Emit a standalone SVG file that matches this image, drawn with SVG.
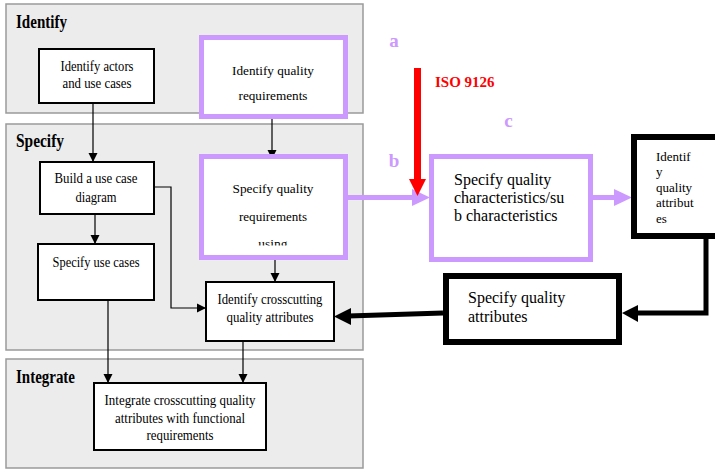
<svg xmlns="http://www.w3.org/2000/svg" width="715" height="469" viewBox="0 0 715 469">
  <style>
    .panel { fill: #ececec; stroke: #9a9a9a; stroke-width: 1.5; }
    .ptitle { font-family: "Liberation Serif", "Times New Roman", serif; font-weight: bold; font-size: 18px; fill: #000; }
    .box { fill: #fff; stroke: #000; stroke-width: 2; }
    .pbox { fill: #fff; stroke: #cc99ff; stroke-width: 5; }
    .bbox { fill: #fff; stroke: #000; stroke-width: 6; }
    .t { font-family: "Liberation Serif", "Times New Roman", serif; font-size: 15px; fill: #000; text-anchor: middle; }
    .tp { font-family: "Liberation Serif", "Times New Roman", serif; font-size: 13.5px; fill: #000; text-anchor: middle; }
    .tl { font-family: "Liberation Serif", "Times New Roman", serif; fill: #000; }
    .tag { font-family: "Liberation Serif", "Times New Roman", serif; font-weight: bold; font-size: 19px; fill: #cc99ff; text-anchor: middle; }
    .thin { fill: none; stroke: #000; stroke-width: 1.2; }
  </style>
  <defs>
    <marker id="ah" viewBox="0 0 10 10" refX="10" refY="5" markerWidth="9" markerHeight="10" markerUnits="userSpaceOnUse" orient="auto">
      <path d="M0,0 L10,5 L0,10 Z" fill="#000"/>
    </marker>
    <clipPath id="clipUsing">
      <rect x="204" y="159" width="139" height="86.5"/>
    </clipPath>
  </defs>

  <rect width="715" height="469" fill="#fff"/>

  <!-- phase panels -->
  <g id="panels">
    <rect class="panel" x="6" y="4" width="357" height="109"/>
    <text class="ptitle" x="16" y="28" textLength="51" lengthAdjust="spacingAndGlyphs">Identify</text>
    <rect class="panel" x="6" y="124" width="357" height="226"/>
    <text class="ptitle" x="16" y="147" textLength="48" lengthAdjust="spacingAndGlyphs">Specify</text>
    <rect class="panel" x="6" y="359" width="357" height="109"/>
    <text class="ptitle" x="16" y="383" textLength="59" lengthAdjust="spacingAndGlyphs">Integrate</text>
  </g>

  <!-- connectors (drawn beneath the nodes) -->
  <g id="connectors">
    <line class="thin" x1="93" y1="103" x2="93" y2="162" marker-end="url(#ah)"/>
    <line class="thin" x1="95" y1="214" x2="95" y2="244" marker-end="url(#ah)"/>
    <polyline class="thin" points="154,187 171,187 171,308 206,308" marker-end="url(#ah)"/>
    <line class="thin" x1="272" y1="119" x2="272" y2="159" marker-end="url(#ah)"/>
    <line class="thin" x1="275" y1="260" x2="275" y2="282" marker-end="url(#ah)"/>
    <line class="thin" x1="108" y1="300" x2="108" y2="383" marker-end="url(#ah)"/>
    <line class="thin" x1="243" y1="341" x2="243" y2="383" marker-end="url(#ah)"/>

    <!-- purple flow -->
    <line x1="348" y1="197.5" x2="414" y2="197.5" stroke="#cc99ff" stroke-width="5"/>
    <path d="M412,189 L430,197.5 L412,206 Z" fill="#cc99ff"/>
    <line x1="593" y1="197.5" x2="616" y2="197.5" stroke="#cc99ff" stroke-width="5"/>
    <path d="M614,189 L632,197.5 L614,206 Z" fill="#cc99ff"/>

    <!-- ISO input -->
    <line x1="417.5" y1="68" x2="417.5" y2="181" stroke="#ff0000" stroke-width="7"/>
    <path d="M409,179 L426,179 L417.5,196 Z" fill="#ff0000"/>

    <!-- black feedback flow -->
    <polyline points="706,239 706,313 636,313" fill="none" stroke="#000" stroke-width="5"/>
    <path d="M638,305 L622,313 L638,322 Z" fill="#000"/>
    <line x1="443" y1="313" x2="348" y2="316" stroke="#000" stroke-width="5"/>
    <path d="M351,308 L334,316.5 L351,325 Z" fill="#000"/>
  </g>

  <!-- nodes -->
  <g id="n-actors">
    <rect class="box" x="39" y="49" width="115" height="54"/>
    <text class="t" x="97" y="71" textLength="73" lengthAdjust="spacingAndGlyphs">Identify actors</text>
    <text class="t" x="97" y="88" textLength="69" lengthAdjust="spacingAndGlyphs">and use cases</text>
  </g>

  <g id="n-identify-quality">
    <rect class="pbox" x="201.5" y="37.5" width="144" height="79"/>
    <text class="tp" x="273" y="75" textLength="82" lengthAdjust="spacingAndGlyphs">Identify quality</text>
    <text class="tp" x="273" y="100" textLength="69" lengthAdjust="spacingAndGlyphs">requirements</text>
  </g>

  <g id="n-build">
    <rect class="box" x="40" y="162" width="114" height="52"/>
    <text class="t" x="96" y="183" textLength="83" lengthAdjust="spacingAndGlyphs">Build a use case</text>
    <text class="t" x="96" y="202" textLength="41" lengthAdjust="spacingAndGlyphs">diagram</text>
  </g>

  <g id="n-specify-quality">
    <rect class="pbox" x="201.5" y="156.5" width="144" height="101"/>
    <text class="tp" x="273" y="193" textLength="81" lengthAdjust="spacingAndGlyphs">Specify quality</text>
    <text class="tp" x="273" y="221" textLength="68" lengthAdjust="spacingAndGlyphs">requirements</text>
    <text class="tp" x="273" y="248" clip-path="url(#clipUsing)">using</text>
  </g>

  <g id="n-use-cases">
    <rect class="box" x="38" y="244" width="116" height="56"/>
    <text class="t" x="96" y="267" textLength="87" lengthAdjust="spacingAndGlyphs">Specify use cases</text>
  </g>

  <g id="n-crosscutting">
    <rect class="box" x="206" y="282" width="128" height="59"/>
    <text class="t" x="270" y="304" textLength="105" lengthAdjust="spacingAndGlyphs">Identify crosscutting</text>
    <text class="t" x="270" y="322" textLength="87" lengthAdjust="spacingAndGlyphs">quality attributes</text>
  </g>

  <g id="n-integrate">
    <rect class="box" x="94" y="383" width="172" height="67"/>
    <text class="t" x="180" y="405" textLength="151" lengthAdjust="spacingAndGlyphs">Integrate crosscutting quality</text>
    <text class="t" x="180" y="423" textLength="130" lengthAdjust="spacingAndGlyphs">attributes with functional</text>
    <text class="t" x="180" y="440" textLength="67" lengthAdjust="spacingAndGlyphs">requirements</text>
  </g>

  <g id="n-characteristics">
    <rect class="pbox" x="431.5" y="156.5" width="159" height="103"/>
    <text class="tl" x="454" y="185" font-size="16">Specify quality</text>
    <text class="tl" x="454" y="203" font-size="16">characteristics/su</text>
    <text class="tl" x="454" y="221" font-size="16">b characteristics</text>
  </g>

  <g id="n-identify-attributes">
    <rect class="bbox" x="634" y="137" width="100" height="99"/>
    <text class="tl" x="656" y="161" font-size="13">Identif</text>
    <text class="tl" x="656" y="176" font-size="13">y</text>
    <text class="tl" x="656" y="192" font-size="13">quality</text>
    <text class="tl" x="656" y="207" font-size="13">attribut</text>
    <text class="tl" x="656" y="223" font-size="13">es</text>
  </g>

  <g id="n-specify-attributes">
    <rect class="bbox" x="446" y="276" width="173" height="66"/>
    <text class="tl" x="468" y="303" font-size="16">Specify quality</text>
    <text class="tl" x="468" y="322" font-size="16">attributes</text>
  </g>

  <!-- annotations -->
  <g id="labels">
    <text class="tag" x="394" y="47">a</text>
    <text class="tag" x="394" y="167">b</text>
    <text class="tag" x="508.5" y="127">c</text>
    <text x="435" y="87" font-family="Liberation Serif, Times New Roman, serif" font-weight="bold" font-size="15px" fill="#ff0000">ISO 9126</text>
  </g>
</svg>
